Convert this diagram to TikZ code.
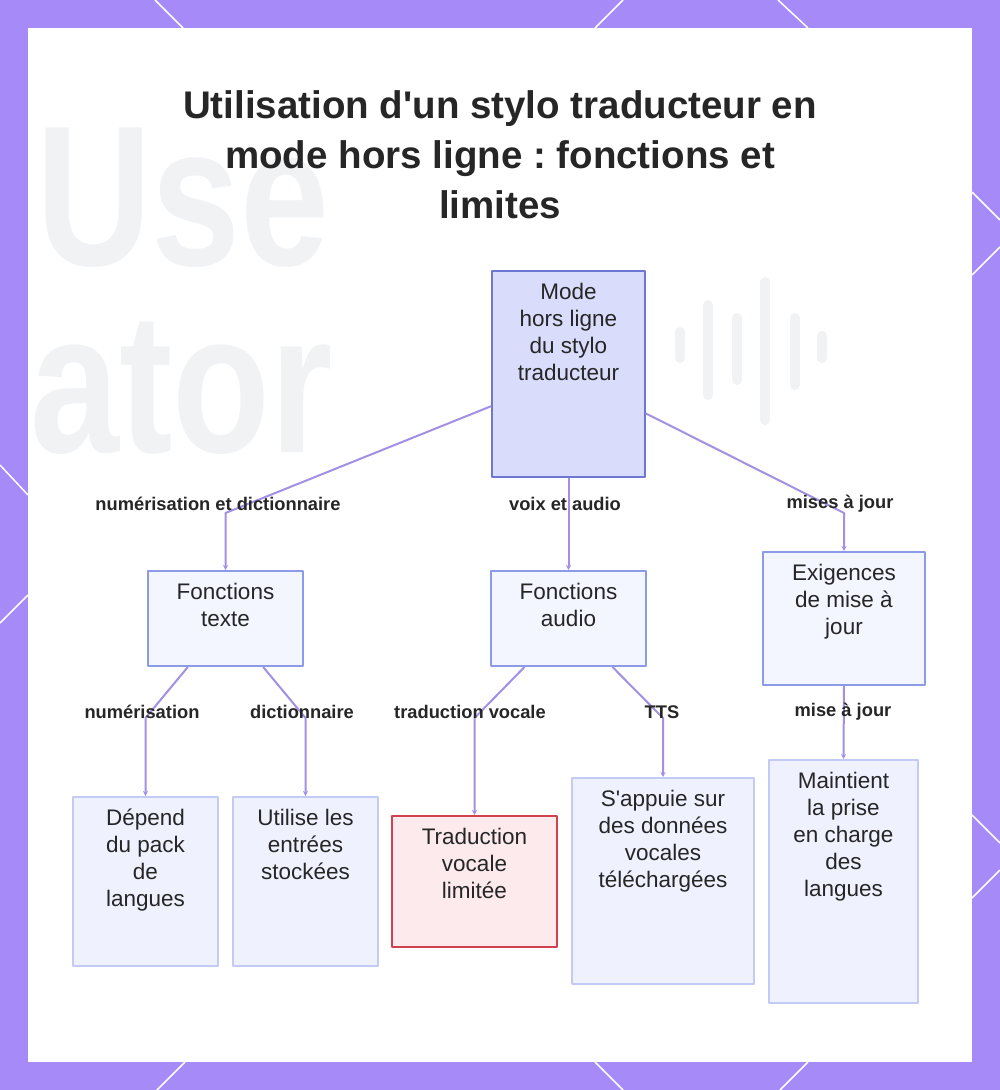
\documentclass[tikz,border=0pt]{standalone}
\usepackage{fontspec}
\setmainfont{Liberation Sans}[Ligatures=TeXOff]
\usepackage{tikz}
\usetikzlibrary{arrows.meta,calc,positioning}
\definecolor{frame}{HTML}{A68AF7}
\definecolor{ink}{HTML}{262626}
\definecolor{linkc}{HTML}{A390E4}
\definecolor{ghost}{HTML}{F1F2F4}
\definecolor{mainfill}{HTML}{D9DCFB}
\definecolor{maindraw}{HTML}{6E78D2}
\definecolor{subfill}{HTML}{F3F5FF}
\definecolor{subdraw}{HTML}{8C9BE8}
\definecolor{leaffill}{HTML}{EFF2FE}
\definecolor{leafdraw}{HTML}{C3CAF4}
\definecolor{warnfill}{HTML}{FDEAED}
\definecolor{warndraw}{HTML}{D2414E}
\newcommand{\boxtxt}[3]{\parbox[t][#2pt][t]{#1pt}{\centering\vspace{12pt}#3}}
\frenchspacing
\tikzset{
diagram/.style={x=1pt,y=-1pt,line join=round},
border line/.style={white,line width=1.5pt},
box/.style={anchor=north,inner sep=0pt,line width=2pt,text=ink,
  font=\fontsize{22.5}{27}\selectfont},
main box/.style={box,draw=maindraw,fill=mainfill},
sub box/.style={box,draw=subdraw,fill=subfill},
leaf box/.style={box,draw=leafdraw,fill=leaffill},
warn box/.style={box,draw=warndraw,fill=warnfill},
link/.style={draw=linkc,line width=2pt,-{Stealth[length=5pt,width=5pt]}},
edge label/.style={text=ink,font=\fontsize{18.3}{22}\selectfont\bfseries},
ghost text/.style={anchor=base west,text=ghost,xscale=0.8,inner sep=0pt,
  font=\fontsize{200}{200}\selectfont\bfseries},
}

\begin{document}
\begin{tikzpicture}[diagram]
\useasboundingbox (0,0) rectangle (1000,1090);
\fill[frame] (0,0) rectangle (1000,1090);
\fill[white] (28,28) rectangle (972,1062);
% border pattern
\draw[border line] (155,0) -- (183,28);
\draw[border line] (623,0) -- (595,28);
\draw[border line] (778,0) -- (808,28);
\draw[border line] (972,192) -- (1000,220);
\draw[border line] (972,275) -- (1000,247);
\draw[border line] (972,815) -- (1000,843);
\draw[border line] (972,898) -- (1000,870);
\draw[border line] (0,465) -- (28,495);
\draw[border line] (28,595) -- (0,623);
\draw[border line] (185,1062) -- (157,1090);
\draw[border line] (595,1062) -- (623,1090);
\draw[border line] (808,1062) -- (780,1090);

% faded background
\begin{scope}
\clip (28,28) rectangle (972,1062);
\node[ghost text] (bguse) at (36,265) {Use};
\node[ghost text] (bgator) at (30,452) {ator};
\foreach \x/\a/\b in {680/332/358,708/305/395,737/318/380,765/282/420,795/318/385,822/336/358}
  \draw[ghost,line width=10pt,line cap=round] (\x,\a) -- (\x,\b);
\end{scope}

\node[text=ink,align=center,font=\fontsize{38.5}{50}\selectfont\bfseries] (title) at (500,155)
  {Utilisation d'un stylo traducteur en\\mode hors ligne : fonctions et\\limites};

\node[main box] (root) at (568.5,270) {\boxtxt{153}{206}{Mode\\hors ligne\\du stylo\\traducteur}};

\node[sub box] (txt) at (225.5,570) {\boxtxt{155}{95}{Fonctions\\texte}};
\node[sub box] (aud) at (568.5,570) {\boxtxt{155}{95}{Fonctions\\audio}};
\node[sub box] (upd) at (844,551) {\boxtxt{162}{133}{Exigences\\de mise à\\jour}};

\node[leaf box] (pack) at (145.5,796) {\boxtxt{145}{169}{Dépend\\du pack\\de\\langues}};
\node[leaf box] (stored) at (305.5,796) {\boxtxt{145}{169}{Utilise les\\entrées\\stockées}};
\node[warn box] (vocal) at (474.5,815) {\boxtxt{165}{131}{Traduction\\vocale\\limitée}};
\node[leaf box] (tts) at (663,777) {\boxtxt{182}{206}{S'appuie sur\\des données\\vocales\\téléchargées}};
\node[leaf box] (keep) at (843.5,759) {\boxtxt{149}{243}{Maintient\\la prise\\en charge\\des\\langues}};

\draw[link] ($(root.south west)!.345!(root.north west)$) -- (txt.north |- 0,513) -- (txt.north);
\draw[link] (root.south) -- (aud.north);
\draw[link] ($(root.south east)!.31!(root.north east)$) -- (upd.north |- 0,513) -- (upd.north);
\draw[link] ($(txt.south west)!.26!(txt.south east)$) -- (pack.north |- 0,718) -- (pack.north);
\draw[link] ($(txt.south west)!.74!(txt.south east)$) -- (stored.north |- 0,718) -- (stored.north);
\draw[link] ($(aud.south west)!.22!(aud.south east)$) -- (vocal.north |- 0,718) -- (vocal.north);
\draw[link] ($(aud.south west)!.78!(aud.south east)$) -- (tts.north |- 0,718) -- (tts.north);
\draw[link] (upd.south) -- (keep.north);

\node[edge label] (l1) at (218,504) {numérisation et dictionnaire};
\node[edge label] (l2) at (565,504) {voix et audio};
\node[edge label] (l3) at (840,504) {mises à jour};
\node[edge label] (l4) at (142,712) {numérisation};
\node[edge label] (l5) at (302,712) {dictionnaire};
\node[edge label] (l6) at (470,712) {traduction vocale};
\node[edge label] (l7) at (662,712) {TTS};
\node[edge label] (l8) at (843,712) {mise à jour};
\end{tikzpicture}
\end{document}
